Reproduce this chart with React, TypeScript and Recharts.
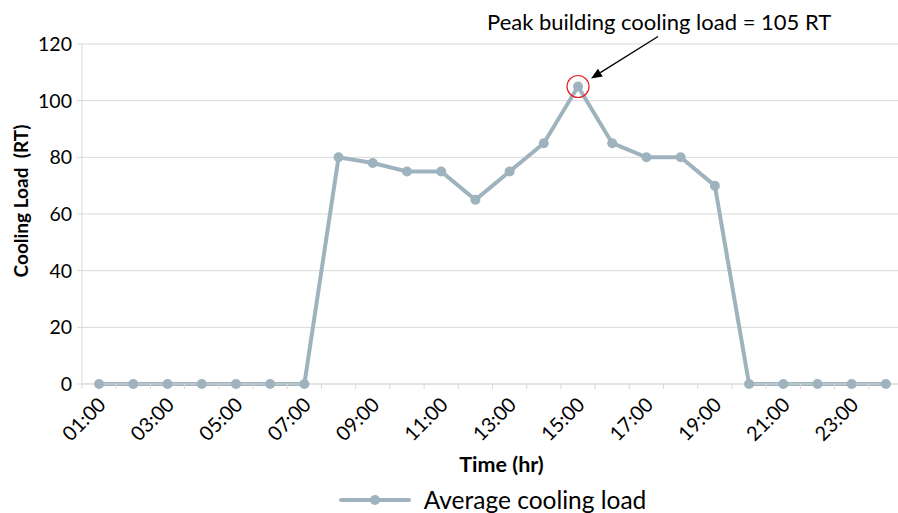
import React from 'react';
import { LineChart, Line, XAxis, YAxis, CartesianGrid, Legend, ReferenceDot } from 'recharts';

const hours = ['01:00','02:00','03:00','04:00','05:00','06:00','07:00','08:00','09:00','10:00','11:00','12:00','13:00','14:00','15:00','16:00','17:00','18:00','19:00','20:00','21:00','22:00','23:00','24:00'];
const coolingLoad = [0,0,0,0,0,0,0,80,78,75,75,65,75,85,105,85,80,80,70,0,0,0,0,0];
const yTicks = [0,20,40,60,80,100,120];
const seriesName = 'Average cooling load';
const peakLabel = 'Peak building cooling load = 105 RT';
const peakHour = '15:00';
const peakValue = 105;

const data = hours.map((h, i) => ({ hour: h, load: coolingLoad[i] }));

const FONT = 'Lato, "Open Sans", sans-serif';
const LINE_COLOR = '#9fb3be';
const GRID = '#d9d9d9';

const XTick = (props: any) => {
  const { x, y, payload, index } = props;
  const half = payload && typeof payload.offset === 'number' && payload.offset > 0 ? payload.offset : 17.1;
  const bx = x - half;
  const ax = x + 3;
  const ay = y + 17;
  return (
    <g>
      <line x1={bx} y1={y} x2={bx} y2={y + 5} stroke={GRID} strokeWidth={1} />
      {index % 2 === 0 ? (
        <text
          x={ax}
          y={ay}
          dy="0.35em"
          textAnchor="end"
          transform={`rotate(-45, ${ax}, ${ay})`}
          fontFamily={FONT}
          fontSize={20}
          fill="#000"
        >
          {payload.value}
        </text>
      ) : null}
    </g>
  );
};

const YLabel = (props: any) => {
  const vb = props.viewBox || { x: 0, y: 44, width: 82, height: 340 };
  const cx = 20;
  const cy = vb.y + vb.height / 2 - 13;
  return (
    <text
      x={cx}
      y={cy}
      transform={`rotate(-90, ${cx}, ${cy})`}
      textAnchor="middle"
      dominantBaseline="central"
      fontFamily={FONT}
      fontWeight="bold"
      fontSize={19}
      fill="#000"
      style={{ whiteSpace: 'pre' }}
    >
      {'Cooling Load  (RT)'}
    </text>
  );
};

const XLabel = (props: any) => {
  const vb = props.viewBox || { x: 82, y: 384, width: 821, height: 89 };
  const cx = vb.x + vb.width / 2 + 9;
  return (
    <text x={cx} y={vb.y + 88} textAnchor="middle" fontFamily={FONT} fontWeight="bold" fontSize={21.5} fill="#000">
      Time (hr)
    </text>
  );
};

const PeakAnnotation = (props: any) => {
  const vb = props.viewBox || { x: 0, y: 0, width: 0, height: 0 };
  const cx = vb.x + vb.width / 2;
  const cy = vb.y + vb.height / 2;
  const x1 = cx + 80, y1 = cy - 50;
  const x2 = cx + 13, y2 = cy - 8;
  const dx = x2 - x1, dy = y2 - y1;
  const len = Math.sqrt(dx * dx + dy * dy);
  const ux = dx / len, uy = dy / len;
  const hl = 11, hw = 4.5;
  const bx = x2 - ux * hl, by = y2 - uy * hl;
  const p1 = `${x2},${y2}`;
  const p2 = `${bx - uy * hw},${by + ux * hw}`;
  const p3 = `${bx + uy * hw},${by - ux * hw}`;
  return (
    <g>
      <line x1={x1} y1={y1} x2={bx} y2={by} stroke="#000" strokeWidth={1.3} />
      <polygon points={`${p1} ${p2} ${p3}`} fill="#000" />
      <text x={cx - 91} y={cy - 57} fontFamily={FONT} fontSize={22} fill="#000">
        {peakLabel}
      </text>
    </g>
  );
};

const renderLegend = () => (
  <div
    style={{
      height: 40,
      boxSizing: 'border-box',
      paddingTop: 14,
      display: 'flex',
      justifyContent: 'center',
      alignItems: 'center',
      fontFamily: FONT,
      fontSize: 24.5,
      color: '#000',
    }}
  >
    <svg width={72} height={12} style={{ display: 'block' }}>
      <line x1={2} y1={6} x2={70} y2={6} stroke={LINE_COLOR} strokeWidth={4} strokeLinecap="round" />
      <circle cx={36} cy={6} r={5} fill={LINE_COLOR} />
    </svg>
    <span style={{ marginLeft: 13, lineHeight: '26px' }}>{seriesName}</span>
  </div>
);

export default function App() {
  return (
    <div style={{ position: 'absolute', left: 0, top: 0, width: 898, height: 513, overflow: 'hidden', background: '#fff' }}>
      <LineChart width={903} height={513} data={data} margin={{ top: 44, right: 0, bottom: 0, left: 0 }}>
        <CartesianGrid vertical={false} stroke={GRID} strokeWidth={1} />
        <XAxis
          dataKey="hour"
          type="category"
          scale="band"
          interval={0}
          height={89}
          tickLine={false}
          tickSize={0}
          tickMargin={0}
          axisLine={{ stroke: GRID, strokeWidth: 1 }}
          tick={<XTick />}
          label={<XLabel />}
        />
        <YAxis
          domain={[0, 120]}
          ticks={yTicks}
          width={82}
          tickSize={5}
          tickMargin={5}
          tickLine={{ stroke: GRID }}
          axisLine={{ stroke: GRID, strokeWidth: 1 }}
          tick={{ fontFamily: FONT, fontSize: 19.5, fill: '#000' }}
          label={<YLabel />}
        />
        <Legend verticalAlign="bottom" content={renderLegend} wrapperStyle={{ left: 82, width: 821 }} />
        <Line
          type="linear"
          dataKey="load"
          name={seriesName}
          stroke={LINE_COLOR}
          strokeWidth={4}
          dot={{ r: 5, fill: LINE_COLOR, stroke: LINE_COLOR, strokeWidth: 0 }}
          activeDot={false}
          isAnimationActive={false}
        />
        <ReferenceDot
          x={peakHour}
          y={peakValue}
          r={11}
          fill="none"
          stroke="#e8202a"
          strokeWidth={1.2}
          label={<PeakAnnotation />}
        />
      </LineChart>
    </div>
  );
}
